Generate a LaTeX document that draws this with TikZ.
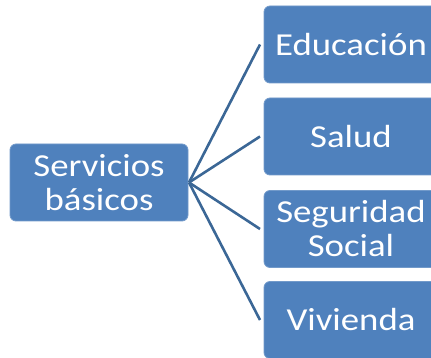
\documentclass[tikz,border=0pt]{standalone}
\usepackage{fontspec}
\setmainfont{Carlito}[FakeStretch=1.15]
\definecolor{boxblue}{HTML}{4F81BD}
\definecolor{linkblue}{HTML}{3B6796}
\tikzset{
  bluebox/.style={fill=boxblue, draw=boxblue!80!white, line width=0.8pt, rounded corners=6pt,
    text=white, align=center, inner sep=0pt, outer sep=0pt,
    font=\fontsize{32}{34}\selectfont, minimum height=77pt},
  leftbox/.style={bluebox, minimum width=178pt},
  rightbox/.style={bluebox, minimum width=174pt},
  link/.style={draw=linkblue, line width=2.6pt}
}
\begin{document}
\begin{tikzpicture}[x=1pt,y=-1pt]
\useasboundingbox (0,0) rectangle (431,358);
\clip (0,0) rectangle (431,358);
\node[leftbox] (sb) at (99,182.5) {Servicios\\básicos};
\node[rightbox] (ed) at (351,44.5) {Educación};
\node[rightbox] (sa) at (351,136.5) {Salud};
\node[rightbox] (ss) at (351,229) {Seguridad\\Social};
\node[rightbox] (vi) at (351,320) {Vivienda};
\coordinate (hub) at ([xshift=1pt]sb.east);
\foreach \t in {ed,sa,ss,vi}{
  \draw[link] (hub) -- ([xshift=-4pt]\t.west);
}
\end{tikzpicture}
\end{document}
